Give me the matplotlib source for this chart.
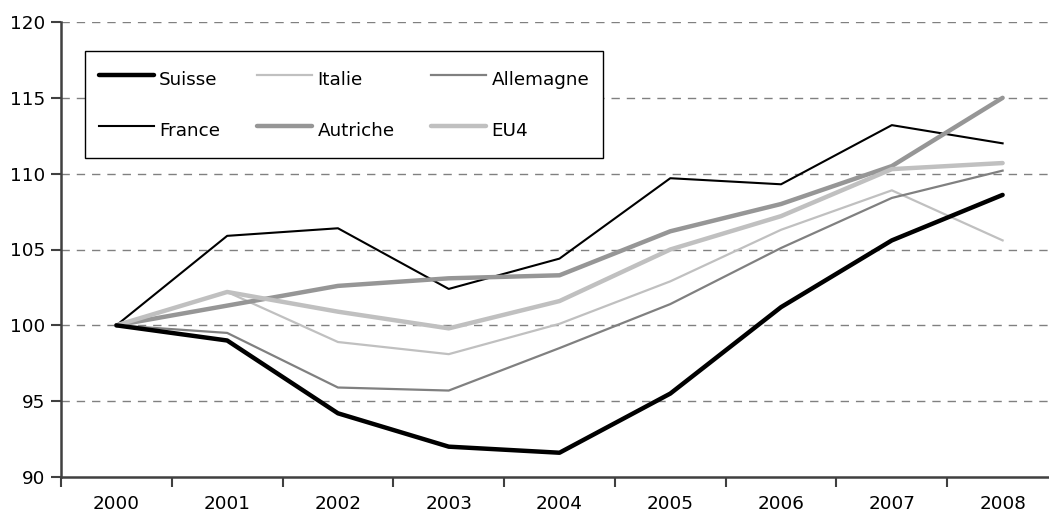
import matplotlib
matplotlib.use("Agg")
import matplotlib.pyplot as plt
import numpy as np

plt.rcParams['font.family'] = ['DejaVu Sans']

years = ["2000", "2001", "2002", "2003", "2004", "2005", "2006", "2007", "2008"]
suisse    = [100, 99.0, 94.2, 92.0, 91.6, 95.5, 101.2, 105.6, 108.6]
italie    = [100, 102.2, 98.9, 98.1, 100.1, 102.9, 106.3, 108.9, 105.6]
allemagne = [100, 99.5, 95.9, 95.7, 98.5, 101.4, 105.1, 108.4, 110.2]
france    = [100, 105.9, 106.4, 102.4, 104.4, 109.7, 109.3, 113.2, 112.0]
autriche  = [100, 101.3, 102.6, 103.1, 103.3, 106.2, 108.0, 110.5, 115.0]
eu4       = [100, 102.2, 100.9, 99.8, 101.6, 105.0, 107.2, 110.3, 110.7]
yticks = [90, 95, 100, 105, 110, 115, 120]

W, H = 1049, 519
fig = plt.figure(figsize=(W / 100, H / 100), dpi=100)
ax = fig.add_axes([61 / W, 1 - 477 / H, 997 / W, 455 / H])

FS = 13.2
x = np.arange(len(years))
lines = {}
lines['Suisse'], = ax.plot(x, suisse, color='black', lw=3.2, solid_capstyle='round', label='Suisse', zorder=6)
lines['Italie'], = ax.plot(x, italie, color='#c0c0c0', lw=1.6, label='Italie', zorder=3)
lines['Allemagne'], = ax.plot(x, allemagne, color='#808080', lw=1.6, label='Allemagne', zorder=3)
lines['France'], = ax.plot(x, france, color='black', lw=1.5, label='France', zorder=4)
lines['Autriche'], = ax.plot(x, autriche, color='#969696', lw=3.2, solid_capstyle='round', label='Autriche', zorder=5)
lines['EU4'], = ax.plot(x, eu4, color='#c0c0c0', lw=3.2, solid_capstyle='round', label='EU4', zorder=5)

ax.set_xlim(-0.5, len(years) - 0.5)
ax.set_ylim(90, 120)
ax.set_yticks(yticks)
ax.set_yticklabels([str(v) for v in yticks], fontsize=FS)
ax.set_xticks(np.arange(-0.5, len(years), 1.0))
ax.set_xticklabels([])
ax.set_xticks(x, minor=True)
ax.set_xticklabels(years, minor=True, fontsize=FS)
ax.tick_params(axis='x', which='minor', length=0, pad=13)
ax.tick_params(axis='x', which='major', length=7, width=1.5, color='#404040', direction='out')
ax.tick_params(axis='y', length=7, width=1.5, color='#404040', direction='out', pad=4)

for s in ['top', 'right']:
    ax.spines[s].set_visible(False)
for s in ['left', 'bottom']:
    ax.spines[s].set_color('#404040')
    ax.spines[s].set_linewidth(1.8)

for v in yticks[1:]:
    ax.axhline(v, color='#808080', lw=1.0, ls=(0, (6, 5)), zorder=1)

order = ['Suisse', 'France', 'Italie', 'Autriche', 'Allemagne', 'EU4']
leg = ax.legend([lines[k] for k in order], order, ncol=3, loc='upper left',
                bbox_to_anchor=(24 / 997, (477 - 51) / 455), borderaxespad=0,
                fontsize=FS, frameon=True, fancybox=False, framealpha=1,
                edgecolor='black', handlelength=3.0, handletextpad=0.3,
                handleheight=2.0, labelspacing=1.25, borderpad=0.75,
                columnspacing=2.0)
leg.get_frame().set_linewidth(1.0)
leg.set_zorder(10)

fig.savefig('out.png', dpi=100)
